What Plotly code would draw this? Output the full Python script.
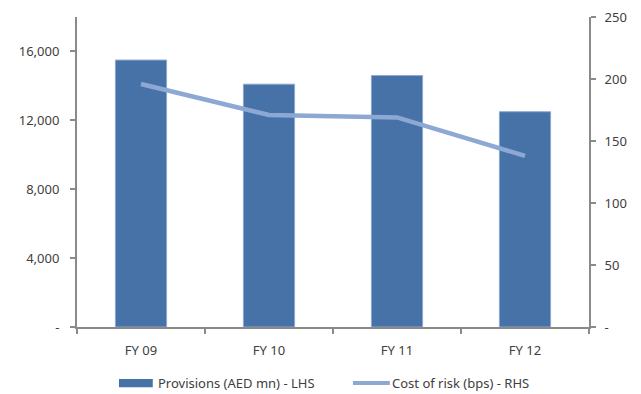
import plotly.graph_objects as go

categories = ["FY 09", "FY 10", "FY 11", "FY 12"]
provisions = [15500, 14100, 14600, 12500]
cost_of_risk = [196, 171, 169, 138]

left_ticks = [0, 4000, 8000, 12000, 16000]
left_labels = ["-", "4,000", "8,000", "12,000", "16,000"]
right_ticks = [0, 50, 100, 150, 200, 250]
right_labels = ["-", "50", "100", "150", "200", "250"]

bar_name = "Provisions (AED mn) - LHS"
line_name = "Cost of risk (bps) - RHS"

bar_color = "#4672A7"
line_color = "#8DA8D2"
axis_color = "#8A8A8A"
font = dict(family="Noto Sans, Open Sans, sans-serif", size=13, color="#404040")

fig = go.Figure()
fig.add_trace(go.Bar(
    x=categories, y=provisions, name=bar_name,
    marker=dict(color=bar_color, line=dict(color="#8FA9D0", width=1)),
    yaxis="y", showlegend=False,
))
fig.add_trace(go.Scatter(
    x=categories, y=cost_of_risk, name=line_name,
    mode="lines", line=dict(color=line_color, width=4.5),
    yaxis="y2", showlegend=False,
))

# custom legend (paper coordinates)
fig.add_shape(type="rect", xref="paper", yref="paper",
              x0=0.082, x1=0.148, y0=-0.194, y1=-0.168,
              fillcolor=bar_color, line=dict(width=0))
fig.add_annotation(xref="paper", yref="paper", x=0.154, y=-0.181,
                   text=bar_name, showarrow=False, xanchor="left", yanchor="middle",
                   font=font)
fig.add_shape(type="line", xref="paper", yref="paper",
              x0=0.539, x1=0.611, y0=-0.181, y1=-0.181,
              line=dict(color=line_color, width=4))
fig.add_annotation(xref="paper", yref="paper", x=0.612, y=-0.181,
                   text=line_name, showarrow=False, xanchor="left", yanchor="middle",
                   font=font)

fig.update_layout(
    width=641, height=394,
    margin=dict(l=77, r=52, t=17, b=67),
    paper_bgcolor="white", plot_bgcolor="white",
    font=font,
    bargap=0.6,
    showlegend=False,
    xaxis=dict(
        type="category", showline=True, linecolor=axis_color, linewidth=2,
        ticks="outside", tickson="boundaries", ticklen=5, tickcolor=axis_color,
        tickwidth=1.5, showgrid=False, zeroline=False, automargin=False,
        range=[-0.5, 3.5], ticklabelstandoff=10,
    ),
    yaxis=dict(
        range=[0, 18000], tickvals=left_ticks, ticktext=left_labels,
        showline=True, linecolor=axis_color, linewidth=2,
        ticks="outside", ticklen=5, tickcolor=axis_color, tickwidth=1.5,
        showgrid=False, zeroline=False, ticklabelstandoff=8, automargin=False,
    ),
    yaxis2=dict(
        range=[0, 250], tickvals=right_ticks, ticktext=right_labels,
        overlaying="y", side="right", anchor="x",
        showline=True, linecolor=axis_color, linewidth=2,
        ticks="outside", ticklen=5, tickcolor=axis_color, tickwidth=1.5,
        showgrid=False, zeroline=False, ticklabelstandoff=6, automargin=False,
    ),
)

fig.write_html("out.html", config={"displayModeBar": False},
               post_script="document.body.style.margin='0px';")
